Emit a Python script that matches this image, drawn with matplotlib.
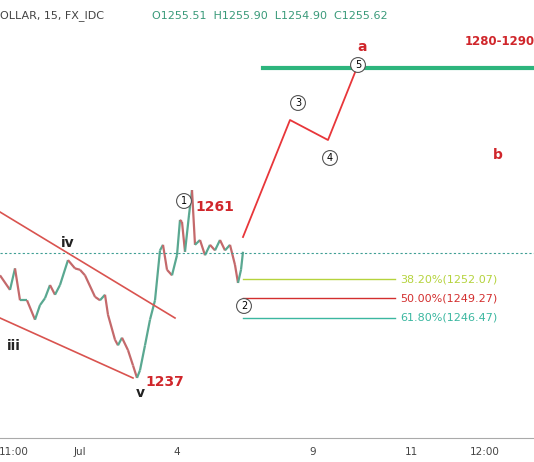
import matplotlib
matplotlib.use("Agg")
import matplotlib.pyplot as plt

# price series (closes), sampled along the visible chart
bar_x = [0,10,15,20,27,35,40,45,50,55,60,68,75,80,85,95,100,105,108,115,118,122,128,133,137,140,145,150,155,160,163,167,172,177,180,182,185,189,192,195,200,205,210,215,220,225,230,235,238,241,243]
closes = [1252.6,1250.5,1253.6,1249.0,1249.0,1246.2,1248.3,1249.3,1251.2,1249.8,1251.2,1254.8,1253.6,1253.4,1252.6,1249.5,1249.0,1249.8,1246.9,1243.3,1242.5,1243.6,1241.8,1239.6,1237.8,1238.9,1242.5,1246.2,1249.0,1256.2,1257.0,1253.4,1252.6,1255.5,1260.6,1260.3,1256.0,1261.3,1264.9,1257.0,1257.7,1255.5,1257.0,1256.2,1257.7,1256.2,1257.0,1254.1,1251.5,1253.4,1256.0]
fib_levels = [1252.07, 1249.27, 1246.47]
fib_labels = ["38.20%(1252.07)", "50.00%(1249.27)", "61.80%(1246.47)"]
fib_colors = ["#b5d33d", "#d32f2f", "#3bb7a0"]
tick_pos = [14, 80, 177, 313, 411, 485]
tick_labels = ["11:00", "Jul", "4", "9", "11", "12:00"]

W, H = 534, 462
def P(y):  # pixel row -> price
    return 1292.33 - y / 6.93

fig = plt.figure(figsize=(W/100, H/100), dpi=100)
ax = fig.add_axes([0, 0, 1, 1])
ax.set_xlim(0, W); ax.set_ylim(P(H), P(0))
ax.axis("off")

for i in range(1, len(closes)):
    o, c = closes[i-1], closes[i]
    col = "#5aa891" if c >= o else "#c4696b"
    ax.plot([bar_x[i-1], bar_x[i]], [o, c], color=col, lw=1.6, solid_capstyle="butt")

ax.axhline(P(253), color="#3f9f94", lw=0.8, ls=(0, (2, 2)))
ax.plot([0, 175], [P(212), P(318)], color="#d9534f", lw=1.2)
ax.plot([0, 133], [P(318), P(378)], color="#d9534f", lw=1.2)
ax.plot([243, 290, 328, 358], [P(237), P(120), P(140), P(65)], color="#e8363a", lw=1.3)
ax.plot([263, 534], [P(68), P(68)], color="#2db57d", lw=3)
for lv, lb, c in zip(fib_levels, fib_labels, fib_colors):
    ax.plot([243, 395], [lv, lv], color=c, lw=1)
    ax.text(400, lv, lb, color=c, fontsize=8, va="center")

for (x, y, t) in [(184, 201, "1"), (244, 306, "2"), (298, 103, "3"), (330, 158, "4"), (358, 65, "5")]:
    ax.text(x, P(y), t, fontsize=7, ha="center", va="center",
            bbox=dict(boxstyle="circle,pad=0.25", fc="white", ec="#555", lw=0.8))

for (x, y, t, c, fs) in [(68, 243, "iv", "#222", 10), (14, 346, "iii", "#222", 10), (140, 393, "v", "#222", 10),
                         (215, 207, "1261", "#d0262b", 10), (165, 382, "1237", "#d0262b", 10),
                         (362, 47, "a", "#d0262b", 10), (498, 155, "b", "#d0262b", 10),
                         (500, 42, "1280-1290", "#d0262b", 8.5)]:
    ax.text(x, P(y), t, color=c, fontsize=fs, fontweight="bold", ha="center", va="center")

ax.text(0, P(16), "OLLAR, 15, FX_IDC", fontsize=8, color="#444", va="center")
ax.text(152, P(16), "O1255.51  H1255.90  L1254.90  C1255.62", fontsize=8, color="#3a9a7a", va="center")

ax.plot([0, W], [P(438), P(438)], color="#aaa", lw=0.8)
for x, t in zip(tick_pos, tick_labels):
    ax.text(x, P(452), t, fontsize=7.5, color="#444", ha="center", va="center")

fig.savefig("out.png", dpi=100)
